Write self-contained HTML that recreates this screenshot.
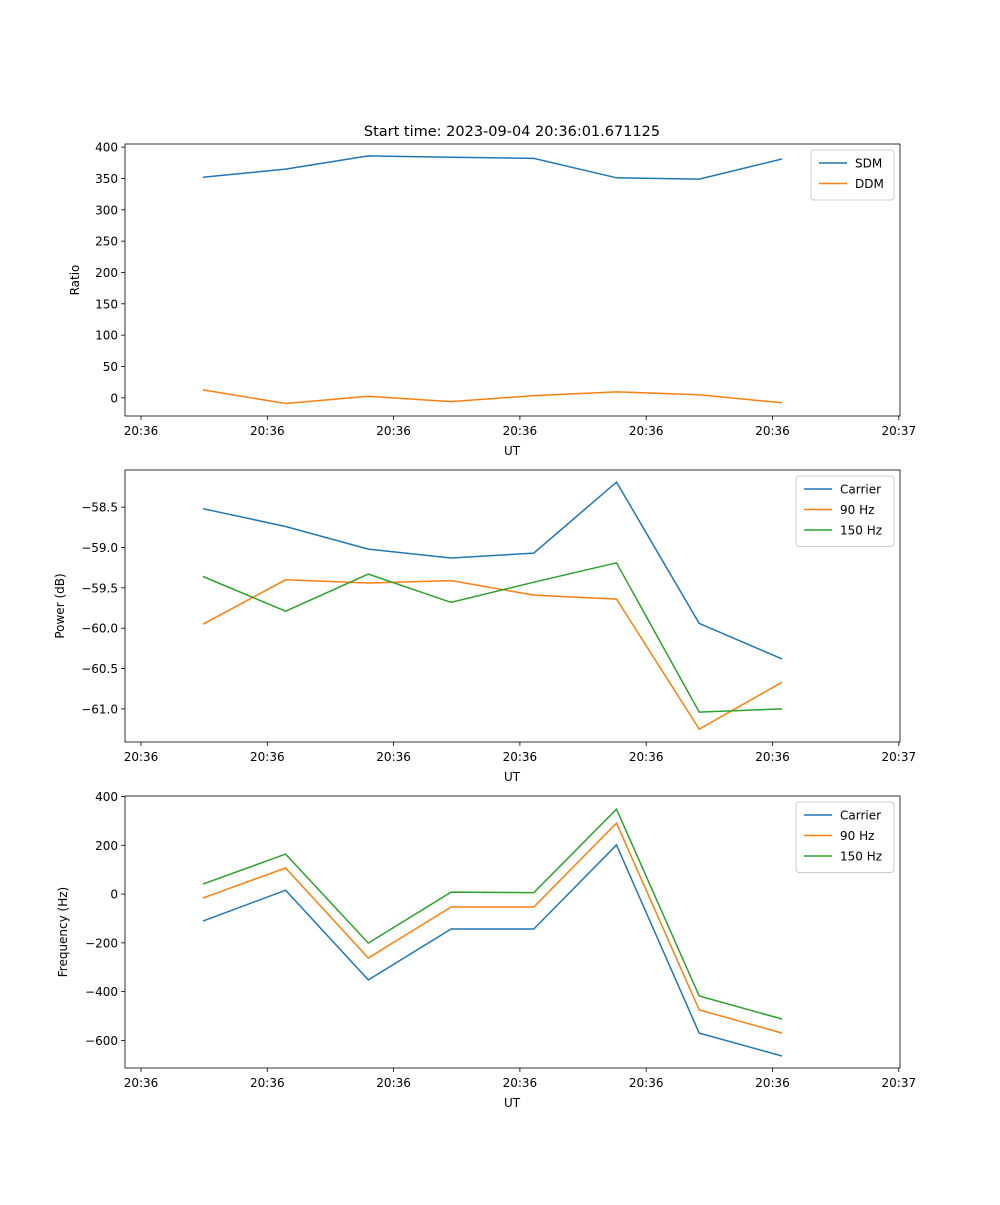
<!DOCTYPE html>
<html><head><meta charset="utf-8"><style>
body{margin:0;background:#fff;font-family:"Liberation Sans","DejaVu Sans",sans-serif;}
svg text{font-family:"DejaVu Sans","Liberation Sans",sans-serif;font-size:12px;fill:#000;}
</style></head><body>
<svg id="fig" width="1000" height="1200" xmlns="http://www.w3.org/2000/svg">
<text x="512" y="136" text-anchor="middle" style="font-size:14.5px">Start time: 2023-09-04 20:36:01.671125</text>
</svg>
<script>
const times=[4.9,11.45,18.0,24.55,31.1,37.65,44.2,50.75];
const xTicks=[0,10,20,30,40,50,60];
const xTickLabels=["20:36","20:36","20:36","20:36","20:36","20:36","20:37"];
const sdm=[352,365,386,384,382,351,349,381];
const ddm=[12.7,-9,2.5,-6,3.5,9.5,5,-8];
const ratioTicks=[0,50,100,150,200,250,300,350,400];
const pCarrier=[-58.52,-58.74,-59.02,-59.13,-59.07,-58.19,-59.94,-60.38];
const p90=[-59.95,-59.40,-59.44,-59.41,-59.59,-59.64,-61.25,-60.67];
const p150=[-59.36,-59.79,-59.33,-59.68,-59.43,-59.19,-61.04,-61.0];
const powerTicks=[-61.0,-60.5,-60.0,-59.5,-59.0,-58.5];
const fCarrier=[-111,16,-352,-143,-143,201,-570,-664];
const f90=[-16,107,-262,-53,-53,291,-475,-570];
const f150=[41,164,-201,8,6,348,-418,-512];
const freqTicks=[-600,-400,-200,0,200,400];
const C=["#1f77b4","#ff7f0e","#2ca02c"];
const svg=document.getElementById('fig');
const NS="http://www.w3.org/2000/svg";
function el(t,a,p){const e=document.createElementNS(NS,t);for(const k in a)e.setAttribute(k,a[k]);(p||svg).appendChild(e);return e;}
function xs(t){return 141+t*12.63;}
function panel(name,top,ymin,ymax,yticks,ylabel,series,names,legW,fmt){
  const L=125,R=900,T=top,B=top+272;
  const g=el('g',{});
  
  
  const ys=v=>B-(v-ymin)/(ymax-ymin)*(B-T);
  series.forEach((s,i)=>{
    const pts=s.map((v,j)=>xs(times[j]).toFixed(1)+','+ys(v).toFixed(1)).join(' ');
    const pl=el('polyline',{points:pts,fill:'none',stroke:C[i],'stroke-width':1.5},g);
    
    
  });
  const fr=el('rect',{x:L,y:T,width:R-L,height:B-T,fill:'none',stroke:'#000','stroke-width':0.8},g);
  
  
  xTicks.forEach((t,i)=>{
    const x=xs(t);
    el('line',{x1:x,x2:x,y1:B,y2:B+4,stroke:'#000','stroke-width':0.8},g);
    const tx=el('text',{x:x,y:B+19,'text-anchor':'middle'},g);tx.textContent=xTickLabels[i];
    
    
  });
  const xl=el('text',{x:512,y:B+39,'text-anchor':'middle'},g);xl.textContent='UT';
  
  
  yticks.forEach(v=>{
    const y=ys(v);
    el('line',{x1:L-4,x2:L,y1:y,y2:y,stroke:'#000','stroke-width':0.8},g);
    const tx=el('text',{x:L-7,y:y+4.5,'text-anchor':'end'},g);tx.textContent=fmt(v);
    
    
  });
  const yl=el('text',{transform:`translate(${name==='ratio'?79:name==='power'?64:67},${(T+B)/2}) rotate(-90)`,'text-anchor':'middle'},g);yl.textContent=ylabel;
  
  
  const lh=names.length*20.5+9, lx=R-6-legW, ly=T+6;
  const lg=el('g',{},g);
  
  
  el('rect',{x:lx,y:ly,width:legW,height:lh,rx:3,fill:'#fff',stroke:'#ccc','stroke-width':1},lg);
  names.forEach((n,i)=>{
    const y=ly+13+i*20.5;
    el('line',{x1:lx+8,x2:lx+36,y1:y,y2:y,stroke:C[i],'stroke-width':1.5},lg);
    const t=el('text',{x:lx+44,y:y+4.5},lg);t.textContent=n;
    
    
  });
}
panel('ratio',144,-29,405,ratioTicks,'Ratio',[sdm,ddm],['SDM','DDM'],83,v=>String(v));
panel('power',470,-61.41,-58.04,powerTicks,'Power (dB)',[pCarrier,p90,p150],['Carrier','90 Hz','150 Hz'],98,v=>v.toFixed(1).replace('-','\u2212'));
panel('frequency',796,-713,402,freqTicks,'Frequency (Hz)',[fCarrier,f90,f150],['Carrier','90 Hz','150 Hz'],98,v=>String(v).replace('-','\u2212'));
</script>
</body></html>
